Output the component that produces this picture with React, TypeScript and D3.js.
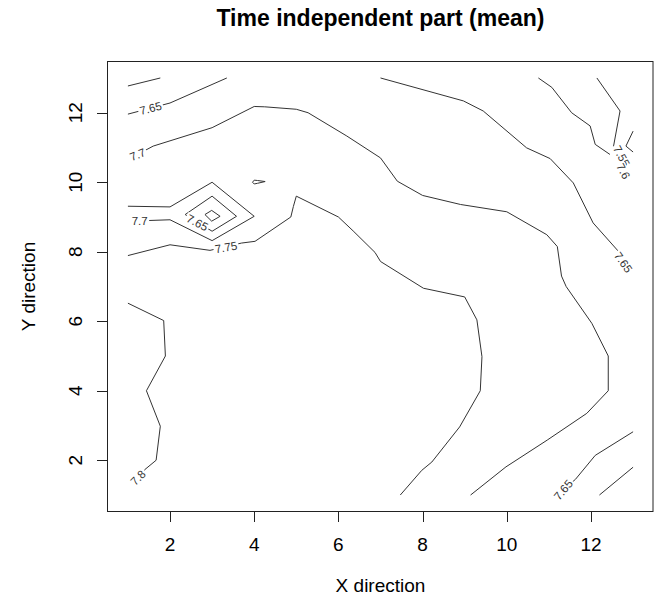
import * as d3 from 'd3'

// contour lines (x, y in grid units)
const c760TopLeft: [number, number][] = [[1, 12.77], [1.77, 13.0]]
const c765TopLeft: [number, number][] = [[1, 11.96], [2, 12.28], [3.35, 13.0]]
const c770Arc: [number, number][] = [
	[1.23, 10.8], [1.6, 11.04], [3, 11.57], [4, 12.18], [4.25, 12.17], [5, 12.1],
	[5.28, 12.0], [6.2, 11.33], [7, 10.7], [7.4, 10.03], [8, 9.62], [8.9, 9.36],
	[10, 9.15], [10.95, 8.49], [11.2, 8.15], [11.3, 7.3], [11.41, 7.0], [12.02, 5.94],
	[12.41, 5.0], [12.41, 4.0], [11.9, 3.35], [10.96, 2.58], [9.98, 1.81], [9.14, 1.0],
]
const c770Pit: [number, number][] = [
	[1, 9.31], [2, 9.29], [3, 10.0], [4, 9.02], [3, 8.32], [2, 8.92], [1.28, 8.89],
]
const c765Pit: [number, number][] = [[3, 9.6], [3.58, 9.02], [3, 8.59], [2.36, 9.07], [3, 9.6]]
const c760Pit: [number, number][] = [[2.83, 9.07], [2.99, 9.19], [3.19, 9.02], [2.99, 8.88], [2.83, 9.07]]
const c775Small: [number, number][] = [
	[3.96, 10.0], [4.0, 10.06], [4.08, 10.05], [4.26, 10.02], [4.08, 9.97], [4.0, 9.95], [3.96, 10.0],
]
const c775Main: [number, number][] = [
	[1, 7.89], [2, 8.2], [2.95, 8.04], [3.7, 8.25], [4.02, 8.3], [4.87, 9.0], [4.93, 9.3],
	[5.0, 9.6], [6, 9.0], [6.35, 8.6], [6.87, 7.98], [7, 7.72], [8.02, 6.95], [9.0, 6.7],
	[9.29, 6.04], [9.41, 4.98], [9.37, 4.0], [8.88, 2.96], [8.22, 1.95], [7.98, 1.71], [7.47, 1.0],
]
const c780Left: [number, number][] = [
	[1, 6.52], [1.85, 6.02], [1.89, 5.0], [1.44, 4.0], [1.77, 2.98], [1.67, 2.0], [1.4, 1.73], [1.24, 1.5],
]
const c765Right: [number, number][] = [
	[7, 13.0], [8.97, 12.34], [9.44, 12.05], [10.47, 10.99], [11.03, 10.68], [11.58, 9.98],
	[12.05, 8.83], [12.69, 7.96], [12.77, 7.7],
]
const c760Right: [number, number][] = [
	[10.75, 13.0], [11.07, 12.73], [11.54, 12.0], [11.98, 11.62], [12.1, 11.09], [12.45, 10.8],
]
const c755Right: [number, number][] = [[12.14, 13.0], [12.69, 12.05], [12.53, 11.0]]
const c750Corner: [number, number][] = [[13, 11.47], [12.83, 11.04], [13, 10.87]]
const c765Bottom: [number, number][] = [[13, 2.82], [12.1, 2.14], [11.63, 1.45], [11.34, 1.15]]
const c760Bottom: [number, number][] = [[13, 1.8], [12.2, 1.0]]

const contourLines = [
	c760TopLeft, c765TopLeft, c770Arc, c770Pit, c765Pit, c760Pit, c775Small, c775Main,
	c780Left, c765Right, c760Right, c755Right, c750Corner, c765Bottom, c760Bottom,
]

const contourLabels = [
	{ level: 7.65, x: 1.54, y: 12.13, angle: -14 },
	{ level: 7.7, x: 1.23, y: 10.8, angle: -22 },
	{ level: 7.7, x: 1.28, y: 8.89, angle: 0 },
	{ level: 7.65, x: 2.65, y: 8.84, angle: 28 },
	{ level: 7.75, x: 3.33, y: 8.13, angle: -10 },
	{ level: 7.8, x: 1.24, y: 1.5, angle: -45 },
	{ level: 7.65, x: 12.77, y: 7.7, angle: 55 },
	{ level: 7.55, x: 12.73, y: 10.75, angle: 62 },
	{ level: 7.6, x: 12.77, y: 10.32, angle: 62 },
	{ level: 7.65, x: 11.34, y: 1.15, angle: -50 },
]

const xTicks = [2, 4, 6, 8, 10, 12]
const yTicks = [2, 4, 6, 8, 10, 12]

const W = 655
const H = 597
const font = 'Liberation Sans, Arial, sans-serif'

export default function App() {
	const x = d3.scaleLinear().domain([0.52, 13.48]).range([107.7, 653.3])
	const y = d3.scaleLinear().domain([0.52, 13.48]).range([511.7, 61.3])
	const line = d3.line<[number, number]>().x(d => x(d[0])).y(d => y(d[1]))

	const labFs = 11.5
	const labW = (s: string) => s.split('').reduce((a, c) => a + (c === '.' ? 0.278 : 0.556), 0) * labFs

	return (
		<svg width={W} height={H} style={{ position: 'absolute', left: 0, top: 0, background: '#fff' }}>
			<rect x={0} y={0} width={W} height={H} fill="#fff" />
			<g fill="none" stroke="#333" strokeWidth={1}>
				{contourLines.map((pts, i) => (
					<path key={i} d={line(pts) || ''} />
				))}
			</g>
			{contourLabels.map((l, i) => {
				const s = String(l.level)
				const w = labW(s)
				return (
					<g key={i} transform={`translate(${x(l.x)},${y(l.y)}) rotate(${l.angle})`}>
						<rect x={-w / 2 - 1.5} y={-labFs * 0.45} width={w + 3} height={labFs * 0.9} fill="#fff" />
						<text textAnchor="middle" dy="0.36em" fontFamily={font} fontSize={labFs} fill="#333">
							{s}
						</text>
					</g>
				)
			})}
			<rect x={107.5} y={61.5} width={545.5} height={450} fill="none" stroke="#222" strokeWidth={1} />
			{xTicks.map(t => (
				<g key={t}>
					<line x1={Math.round(x(t)) + 0.5} x2={Math.round(x(t)) + 0.5} y1={511.5} y2={522} stroke="#222" />
					<text x={x(t)} y={551} textAnchor="middle" fontFamily={font} fontSize={19} fill="#000">
						{t}
					</text>
				</g>
			))}
			{yTicks.map(t => (
				<g key={t}>
					<line x1={97} x2={107.5} y1={Math.round(y(t)) + 0.5} y2={Math.round(y(t)) + 0.5} stroke="#222" />
					<text
						transform={`translate(82,${y(t)}) rotate(-90)`}
						textAnchor="middle"
						fontFamily={font}
						fontSize={19}
						fill="#000"
					>
						{t}
					</text>
				</g>
			))}
			<text x={380.5} y={26} textAnchor="middle" fontFamily={font} fontSize={23} fontWeight="bold" fill="#000">
				Time independent part (mean)
			</text>
			<text x={380.5} y={592} textAnchor="middle" fontFamily={font} fontSize={19} fill="#000">
				X direction
			</text>
			<text
				transform={`translate(35,286.5) rotate(-90)`}
				textAnchor="middle"
				fontFamily={font}
				fontSize={19}
				fill="#000"
			>
				Y direction
			</text>
		</svg>
	)
}
